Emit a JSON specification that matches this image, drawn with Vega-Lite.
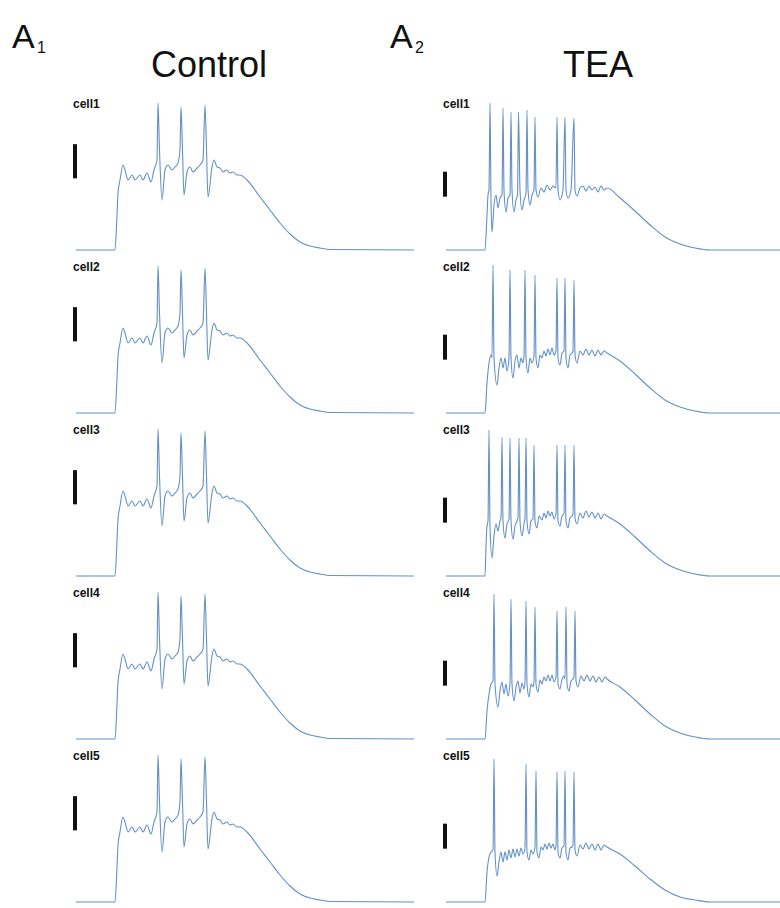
{
"$schema": "https://vega.github.io/schema/vega-lite/v6.json",
"padding": {"left": 12, "top": 21, "right": 0, "bottom": 0},
"autosize": {"type": "pad"},
"bounds": "flush",
"spacing": {"row": 13, "column": 32},
"config": {"view": {"stroke": null}, "font": "Liberation Sans", "background": "white"},
"data": {"values": [
{"k":"trace","cond":"Control","cells":["cell1","cell2","cell3","cell4","cell5"],"t":12,"v":-70},
{"k":"trace","cond":"Control","cells":["cell1","cell2","cell3","cell4","cell5"],"t":129,"v":-70},
{"k":"trace","cond":"Control","cells":["cell1","cell2","cell3","cell4","cell5"],"t":135,"v":-49},
{"k":"trace","cond":"Control","cells":["cell1","cell2","cell3","cell4","cell5"],"t":138,"v":-35.8},
{"k":"trace","cond":"Control","cells":["cell1","cell2","cell3","cell4","cell5"],"t":144,"v":-28},
{"k":"trace","cond":"Control","cells":["cell1","cell2","cell3","cell4","cell5"],"t":153,"v":-19},
{"k":"trace","cond":"Control","cells":["cell1","cell2","cell3","cell4","cell5"],"t":159,"v":-22},
{"k":"trace","cond":"Control","cells":["cell1","cell2","cell3","cell4","cell5"],"t":168,"v":-28},
{"k":"trace","cond":"Control","cells":["cell1","cell2","cell3","cell4","cell5"],"t":180,"v":-25},
{"k":"trace","cond":"Control","cells":["cell1","cell2","cell3","cell4","cell5"],"t":189,"v":-28},
{"k":"trace","cond":"Control","cells":["cell1","cell2","cell3","cell4","cell5"],"t":204,"v":-25},
{"k":"trace","cond":"Control","cells":["cell1","cell2","cell3","cell4","cell5"],"t":213,"v":-28},
{"k":"trace","cond":"Control","cells":["cell1","cell2","cell3","cell4","cell5"],"t":225,"v":-23.8},
{"k":"trace","cond":"Control","cells":["cell1","cell2","cell3","cell4","cell5"],"t":237,"v":-29.2},
{"k":"trace","cond":"Control","cells":["cell1","cell2","cell3","cell4","cell5"],"t":246,"v":-22},
{"k":"trace","cond":"Control","cells":["cell1","cell2","cell3","cell4","cell5"],"t":255,"v":-16},
{"k":"trace","cond":"Control","cells":["cell1","cell2","cell3","cell4","cell5"],"t":258,"v":18.2},
{"k":"trace","cond":"Control","cells":["cell1","cell2","cell3","cell4","cell5"],"t":262.5,"v":-10},
{"k":"trace","cond":"Control","cells":["cell1","cell2","cell3","cell4","cell5"],"t":270,"v":-40},
{"k":"trace","cond":"Control","cells":["cell1","cell2","cell3","cell4","cell5"],"t":279,"v":-22},
{"k":"trace","cond":"Control","cells":["cell1","cell2","cell3","cell4","cell5"],"t":288,"v":-19},
{"k":"trace","cond":"Control","cells":["cell1","cell2","cell3","cell4","cell5"],"t":300,"v":-22},
{"k":"trace","cond":"Control","cells":["cell1","cell2","cell3","cell4","cell5"],"t":309,"v":-20.2},
{"k":"trace","cond":"Control","cells":["cell1","cell2","cell3","cell4","cell5"],"t":318,"v":-17.8},
{"k":"trace","cond":"Control","cells":["cell1","cell2","cell3","cell4","cell5"],"t":324,"v":-10},
{"k":"trace","cond":"Control","cells":["cell1","cell2","cell3","cell4","cell5"],"t":327,"v":15.8},
{"k":"trace","cond":"Control","cells":["cell1","cell2","cell3","cell4","cell5"],"t":331.5,"v":-10},
{"k":"trace","cond":"Control","cells":["cell1","cell2","cell3","cell4","cell5"],"t":336,"v":-37},
{"k":"trace","cond":"Control","cells":["cell1","cell2","cell3","cell4","cell5"],"t":345,"v":-23.2},
{"k":"trace","cond":"Control","cells":["cell1","cell2","cell3","cell4","cell5"],"t":354,"v":-20.2},
{"k":"trace","cond":"Control","cells":["cell1","cell2","cell3","cell4","cell5"],"t":363,"v":-23.2},
{"k":"trace","cond":"Control","cells":["cell1","cell2","cell3","cell4","cell5"],"t":375,"v":-20.8},
{"k":"trace","cond":"Control","cells":["cell1","cell2","cell3","cell4","cell5"],"t":384,"v":-19},
{"k":"trace","cond":"Control","cells":["cell1","cell2","cell3","cell4","cell5"],"t":393,"v":-16},
{"k":"trace","cond":"Control","cells":["cell1","cell2","cell3","cell4","cell5"],"t":399,"v":17},
{"k":"trace","cond":"Control","cells":["cell1","cell2","cell3","cell4","cell5"],"t":403.5,"v":-10},
{"k":"trace","cond":"Control","cells":["cell1","cell2","cell3","cell4","cell5"],"t":408,"v":-38.2},
{"k":"trace","cond":"Control","cells":["cell1","cell2","cell3","cell4","cell5"],"t":420,"v":-20.2},
{"k":"trace","cond":"Control","cells":["cell1","cell2","cell3","cell4","cell5"],"t":426,"v":-16},
{"k":"trace","cond":"Control","cells":["cell1","cell2","cell3","cell4","cell5"],"t":435,"v":-20.2},
{"k":"trace","cond":"Control","cells":["cell1","cell2","cell3","cell4","cell5"],"t":444,"v":-20.8},
{"k":"trace","cond":"Control","cells":["cell1","cell2","cell3","cell4","cell5"],"t":453,"v":-23.2},
{"k":"trace","cond":"Control","cells":["cell1","cell2","cell3","cell4","cell5"],"t":465,"v":-22},
{"k":"trace","cond":"Control","cells":["cell1","cell2","cell3","cell4","cell5"],"t":474,"v":-23.8},
{"k":"trace","cond":"Control","cells":["cell1","cell2","cell3","cell4","cell5"],"t":483,"v":-23.2},
{"k":"trace","cond":"Control","cells":["cell1","cell2","cell3","cell4","cell5"],"t":495,"v":-25},
{"k":"trace","cond":"Control","cells":["cell1","cell2","cell3","cell4","cell5"],"t":504,"v":-25},
{"k":"trace","cond":"Control","cells":["cell1","cell2","cell3","cell4","cell5"],"t":525,"v":-28},
{"k":"trace","cond":"Control","cells":["cell1","cell2","cell3","cell4","cell5"],"t":564,"v":-38.2},
{"k":"trace","cond":"Control","cells":["cell1","cell2","cell3","cell4","cell5"],"t":594,"v":-46},
{"k":"trace","cond":"Control","cells":["cell1","cell2","cell3","cell4","cell5"],"t":624,"v":-53.8},
{"k":"trace","cond":"Control","cells":["cell1","cell2","cell3","cell4","cell5"],"t":654,"v":-60.4},
{"k":"trace","cond":"Control","cells":["cell1","cell2","cell3","cell4","cell5"],"t":684,"v":-65.2},
{"k":"trace","cond":"Control","cells":["cell1","cell2","cell3","cell4","cell5"],"t":714,"v":-67.6},
{"k":"trace","cond":"Control","cells":["cell1","cell2","cell3","cell4","cell5"],"t":744,"v":-68.8},
{"k":"trace","cond":"Control","cells":["cell1","cell2","cell3","cell4","cell5"],"t":774,"v":-69.7},
{"k":"trace","cond":"Control","cells":["cell1","cell2","cell3","cell4","cell5"],"t":1026,"v":-70},

{"k":"trace","cond":"TEA","cells":["cell1"],"t":12,"v":-70},
{"k":"trace","cond":"TEA","cells":["cell1"],"t":129,"v":-70},
{"k":"trace","cond":"TEA","cells":["cell1"],"t":135,"v":-49},
{"k":"trace","cond":"TEA","cells":["cell1"],"t":138,"v":-37},
{"k":"trace","cond":"TEA","cells":["cell1"],"t":141,"v":-34},
{"k":"trace","cond":"TEA","cells":["cell1"],"t":144,"v":18.2},
{"k":"trace","cond":"TEA","cells":["cell1"],"t":147,"v":-40},
{"k":"trace","cond":"TEA","cells":["cell1"],"t":150,"v":-59.2},
{"k":"trace","cond":"TEA","cells":["cell1"],"t":156,"v":-43},
{"k":"trace","cond":"TEA","cells":["cell1"],"t":162,"v":-37},
{"k":"trace","cond":"TEA","cells":["cell1"],"t":168,"v":-44.8},
{"k":"trace","cond":"TEA","cells":["cell1"],"t":174,"v":-38.8},
{"k":"trace","cond":"TEA","cells":["cell1"],"t":180,"v":-37},
{"k":"trace","cond":"TEA","cells":["cell1"],"t":183,"v":15.2},
{"k":"trace","cond":"TEA","cells":["cell1"],"t":186,"v":-34},
{"k":"trace","cond":"TEA","cells":["cell1"],"t":192,"v":-47.2},
{"k":"trace","cond":"TEA","cells":["cell1"],"t":198,"v":-38.8},
{"k":"trace","cond":"TEA","cells":["cell1"],"t":204,"v":-37},
{"k":"trace","cond":"TEA","cells":["cell1"],"t":207,"v":12.8},
{"k":"trace","cond":"TEA","cells":["cell1"],"t":210,"v":-34},
{"k":"trace","cond":"TEA","cells":["cell1"],"t":216,"v":-47.2},
{"k":"trace","cond":"TEA","cells":["cell1"],"t":222,"v":-40},
{"k":"trace","cond":"TEA","cells":["cell1"],"t":226.5,"v":-37},
{"k":"trace","cond":"TEA","cells":["cell1"],"t":229.5,"v":12.8},
{"k":"trace","cond":"TEA","cells":["cell1"],"t":234,"v":-34},
{"k":"trace","cond":"TEA","cells":["cell1"],"t":240,"v":-46},
{"k":"trace","cond":"TEA","cells":["cell1"],"t":246,"v":-40},
{"k":"trace","cond":"TEA","cells":["cell1"],"t":252,"v":-35.8},
{"k":"trace","cond":"TEA","cells":["cell1"],"t":255,"v":14},
{"k":"trace","cond":"TEA","cells":["cell1"],"t":258,"v":-34},
{"k":"trace","cond":"TEA","cells":["cell1"],"t":264,"v":-43},
{"k":"trace","cond":"TEA","cells":["cell1"],"t":270,"v":-37},
{"k":"trace","cond":"TEA","cells":["cell1"],"t":276,"v":-34},
{"k":"trace","cond":"TEA","cells":["cell1"],"t":279,"v":9.8},
{"k":"trace","cond":"TEA","cells":["cell1"],"t":282,"v":-34},
{"k":"trace","cond":"TEA","cells":["cell1"],"t":288,"v":-38.2},
{"k":"trace","cond":"TEA","cells":["cell1"],"t":297,"v":-32.8},
{"k":"trace","cond":"TEA","cells":["cell1"],"t":306,"v":-35.2},
{"k":"trace","cond":"TEA","cells":["cell1"],"t":315,"v":-31},
{"k":"trace","cond":"TEA","cells":["cell1"],"t":324,"v":-34},
{"k":"trace","cond":"TEA","cells":["cell1"],"t":333,"v":-31.6},
{"k":"trace","cond":"TEA","cells":["cell1"],"t":342,"v":-32.8},
{"k":"trace","cond":"TEA","cells":["cell1"],"t":345,"v":9.8},
{"k":"trace","cond":"TEA","cells":["cell1"],"t":348,"v":-34},
{"k":"trace","cond":"TEA","cells":["cell1"],"t":354,"v":-40},
{"k":"trace","cond":"TEA","cells":["cell1"],"t":363,"v":-34},
{"k":"trace","cond":"TEA","cells":["cell1"],"t":369,"v":9.8},
{"k":"trace","cond":"TEA","cells":["cell1"],"t":372,"v":-34},
{"k":"trace","cond":"TEA","cells":["cell1"],"t":378,"v":-38.8},
{"k":"trace","cond":"TEA","cells":["cell1"],"t":387,"v":-34},
{"k":"trace","cond":"TEA","cells":["cell1"],"t":396,"v":9.2},
{"k":"trace","cond":"TEA","cells":["cell1"],"t":399,"v":-34},
{"k":"trace","cond":"TEA","cells":["cell1"],"t":405,"v":-37.6},
{"k":"trace","cond":"TEA","cells":["cell1"],"t":414,"v":-32.8},
{"k":"trace","cond":"TEA","cells":["cell1"],"t":423,"v":-31.6},
{"k":"trace","cond":"TEA","cells":["cell1"],"t":432,"v":-34.6},
{"k":"trace","cond":"TEA","cells":["cell1"],"t":441,"v":-31.6},
{"k":"trace","cond":"TEA","cells":["cell1"],"t":450,"v":-34},
{"k":"trace","cond":"TEA","cells":["cell1"],"t":459,"v":-32.2},
{"k":"trace","cond":"TEA","cells":["cell1"],"t":468,"v":-35.2},
{"k":"trace","cond":"TEA","cells":["cell1"],"t":477,"v":-31.6},
{"k":"trace","cond":"TEA","cells":["cell1"],"t":486,"v":-34},
{"k":"trace","cond":"TEA","cells":["cell1"],"t":495,"v":-32.8},
{"k":"trace","cond":"TEA","cells":["cell1"],"t":534,"v":-38.8},
{"k":"trace","cond":"TEA","cells":["cell1"],"t":579,"v":-46.6},
{"k":"trace","cond":"TEA","cells":["cell1"],"t":624,"v":-55},
{"k":"trace","cond":"TEA","cells":["cell1"],"t":669,"v":-62.2},
{"k":"trace","cond":"TEA","cells":["cell1"],"t":714,"v":-66.4},
{"k":"trace","cond":"TEA","cells":["cell1"],"t":759,"v":-68.8},
{"k":"trace","cond":"TEA","cells":["cell1"],"t":804,"v":-70},
{"k":"trace","cond":"TEA","cells":["cell1"],"t":1014,"v":-70},

{"k":"trace","cond":"TEA","cells":["cell2"],"t":12,"v":-70},
{"k":"trace","cond":"TEA","cells":["cell2"],"t":129,"v":-70},
{"k":"trace","cond":"TEA","cells":["cell2"],"t":135,"v":-52},
{"k":"trace","cond":"TEA","cells":["cell2"],"t":141,"v":-40},
{"k":"trace","cond":"TEA","cells":["cell2"],"t":147,"v":-35.2},
{"k":"trace","cond":"TEA","cells":["cell2"],"t":150,"v":-37},
{"k":"trace","cond":"TEA","cells":["cell2"],"t":153,"v":18.8},
{"k":"trace","cond":"TEA","cells":["cell2"],"t":156,"v":-37},
{"k":"trace","cond":"TEA","cells":["cell2"],"t":165,"v":-53.2},
{"k":"trace","cond":"TEA","cells":["cell2"],"t":171,"v":-43},
{"k":"trace","cond":"TEA","cells":["cell2"],"t":177,"v":-37},
{"k":"trace","cond":"TEA","cells":["cell2"],"t":183,"v":-43},
{"k":"trace","cond":"TEA","cells":["cell2"],"t":189,"v":-37},
{"k":"trace","cond":"TEA","cells":["cell2"],"t":195,"v":-44.8},
{"k":"trace","cond":"TEA","cells":["cell2"],"t":201,"v":-37},
{"k":"trace","cond":"TEA","cells":["cell2"],"t":204,"v":15.8},
{"k":"trace","cond":"TEA","cells":["cell2"],"t":207,"v":-37},
{"k":"trace","cond":"TEA","cells":["cell2"],"t":213,"v":-49},
{"k":"trace","cond":"TEA","cells":["cell2"],"t":219,"v":-38.8},
{"k":"trace","cond":"TEA","cells":["cell2"],"t":225,"v":-35.2},
{"k":"trace","cond":"TEA","cells":["cell2"],"t":231,"v":-43},
{"k":"trace","cond":"TEA","cells":["cell2"],"t":237,"v":-37},
{"k":"trace","cond":"TEA","cells":["cell2"],"t":243,"v":-40},
{"k":"trace","cond":"TEA","cells":["cell2"],"t":246,"v":-35.8},
{"k":"trace","cond":"TEA","cells":["cell2"],"t":249,"v":15.8},
{"k":"trace","cond":"TEA","cells":["cell2"],"t":252,"v":-37},
{"k":"trace","cond":"TEA","cells":["cell2"],"t":258,"v":-46},
{"k":"trace","cond":"TEA","cells":["cell2"],"t":264,"v":-37},
{"k":"trace","cond":"TEA","cells":["cell2"],"t":270,"v":-40},
{"k":"trace","cond":"TEA","cells":["cell2"],"t":276,"v":-35.8},
{"k":"trace","cond":"TEA","cells":["cell2"],"t":279,"v":12.8},
{"k":"trace","cond":"TEA","cells":["cell2"],"t":282,"v":-37},
{"k":"trace","cond":"TEA","cells":["cell2"],"t":288,"v":-43},
{"k":"trace","cond":"TEA","cells":["cell2"],"t":294,"v":-35.2},
{"k":"trace","cond":"TEA","cells":["cell2"],"t":300,"v":-37},
{"k":"trace","cond":"TEA","cells":["cell2"],"t":306,"v":-32.8},
{"k":"trace","cond":"TEA","cells":["cell2"],"t":312,"v":-35.8},
{"k":"trace","cond":"TEA","cells":["cell2"],"t":318,"v":-31.6},
{"k":"trace","cond":"TEA","cells":["cell2"],"t":324,"v":-35.2},
{"k":"trace","cond":"TEA","cells":["cell2"],"t":330,"v":-31},
{"k":"trace","cond":"TEA","cells":["cell2"],"t":336,"v":-35.2},
{"k":"trace","cond":"TEA","cells":["cell2"],"t":342,"v":-32.8},
{"k":"trace","cond":"TEA","cells":["cell2"],"t":345,"v":11},
{"k":"trace","cond":"TEA","cells":["cell2"],"t":348,"v":-37},
{"k":"trace","cond":"TEA","cells":["cell2"],"t":354,"v":-41.2},
{"k":"trace","cond":"TEA","cells":["cell2"],"t":360,"v":-34},
{"k":"trace","cond":"TEA","cells":["cell2"],"t":366,"v":-32.8},
{"k":"trace","cond":"TEA","cells":["cell2"],"t":369,"v":11},
{"k":"trace","cond":"TEA","cells":["cell2"],"t":372,"v":-37},
{"k":"trace","cond":"TEA","cells":["cell2"],"t":378,"v":-43},
{"k":"trace","cond":"TEA","cells":["cell2"],"t":384,"v":-35.2},
{"k":"trace","cond":"TEA","cells":["cell2"],"t":390,"v":-34},
{"k":"trace","cond":"TEA","cells":["cell2"],"t":393,"v":-32.8},
{"k":"trace","cond":"TEA","cells":["cell2"],"t":396,"v":9.8},
{"k":"trace","cond":"TEA","cells":["cell2"],"t":399,"v":-35.2},
{"k":"trace","cond":"TEA","cells":["cell2"],"t":405,"v":-40},
{"k":"trace","cond":"TEA","cells":["cell2"],"t":414,"v":-32.8},
{"k":"trace","cond":"TEA","cells":["cell2"],"t":423,"v":-35.2},
{"k":"trace","cond":"TEA","cells":["cell2"],"t":432,"v":-31.6},
{"k":"trace","cond":"TEA","cells":["cell2"],"t":441,"v":-35.2},
{"k":"trace","cond":"TEA","cells":["cell2"],"t":450,"v":-32.2},
{"k":"trace","cond":"TEA","cells":["cell2"],"t":459,"v":-35.8},
{"k":"trace","cond":"TEA","cells":["cell2"],"t":468,"v":-32.2},
{"k":"trace","cond":"TEA","cells":["cell2"],"t":477,"v":-35.2},
{"k":"trace","cond":"TEA","cells":["cell2"],"t":486,"v":-32.8},
{"k":"trace","cond":"TEA","cells":["cell2"],"t":495,"v":-34},
{"k":"trace","cond":"TEA","cells":["cell2"],"t":534,"v":-38.8},
{"k":"trace","cond":"TEA","cells":["cell2"],"t":579,"v":-46.6},
{"k":"trace","cond":"TEA","cells":["cell2"],"t":624,"v":-55},
{"k":"trace","cond":"TEA","cells":["cell2"],"t":669,"v":-62.2},
{"k":"trace","cond":"TEA","cells":["cell2"],"t":714,"v":-66.4},
{"k":"trace","cond":"TEA","cells":["cell2"],"t":759,"v":-68.8},
{"k":"trace","cond":"TEA","cells":["cell2"],"t":804,"v":-70},
{"k":"trace","cond":"TEA","cells":["cell2"],"t":1014,"v":-70},

{"k":"trace","cond":"TEA","cells":["cell3"],"t":12,"v":-70},
{"k":"trace","cond":"TEA","cells":["cell3"],"t":129,"v":-70},
{"k":"trace","cond":"TEA","cells":["cell3"],"t":132,"v":-52},
{"k":"trace","cond":"TEA","cells":["cell3"],"t":135,"v":-40},
{"k":"trace","cond":"TEA","cells":["cell3"],"t":138,"v":-37},
{"k":"trace","cond":"TEA","cells":["cell3"],"t":141,"v":17.6},
{"k":"trace","cond":"TEA","cells":["cell3"],"t":144,"v":-40},
{"k":"trace","cond":"TEA","cells":["cell3"],"t":150,"v":-59.2},
{"k":"trace","cond":"TEA","cells":["cell3"],"t":156,"v":-46},
{"k":"trace","cond":"TEA","cells":["cell3"],"t":162,"v":-38.8},
{"k":"trace","cond":"TEA","cells":["cell3"],"t":168,"v":-43},
{"k":"trace","cond":"TEA","cells":["cell3"],"t":174,"v":-37},
{"k":"trace","cond":"TEA","cells":["cell3"],"t":177,"v":-35.2},
{"k":"trace","cond":"TEA","cells":["cell3"],"t":180,"v":13.4},
{"k":"trace","cond":"TEA","cells":["cell3"],"t":183,"v":-37},
{"k":"trace","cond":"TEA","cells":["cell3"],"t":189,"v":-47.2},
{"k":"trace","cond":"TEA","cells":["cell3"],"t":195,"v":-38.8},
{"k":"trace","cond":"TEA","cells":["cell3"],"t":201,"v":-35.8},
{"k":"trace","cond":"TEA","cells":["cell3"],"t":204,"v":12.8},
{"k":"trace","cond":"TEA","cells":["cell3"],"t":207,"v":-37},
{"k":"trace","cond":"TEA","cells":["cell3"],"t":213,"v":-47.8},
{"k":"trace","cond":"TEA","cells":["cell3"],"t":219,"v":-40},
{"k":"trace","cond":"TEA","cells":["cell3"],"t":225,"v":-37},
{"k":"trace","cond":"TEA","cells":["cell3"],"t":228,"v":-35.2},
{"k":"trace","cond":"TEA","cells":["cell3"],"t":231,"v":12.8},
{"k":"trace","cond":"TEA","cells":["cell3"],"t":234,"v":-37},
{"k":"trace","cond":"TEA","cells":["cell3"],"t":240,"v":-46},
{"k":"trace","cond":"TEA","cells":["cell3"],"t":246,"v":-38.8},
{"k":"trace","cond":"TEA","cells":["cell3"],"t":249,"v":-35.2},
{"k":"trace","cond":"TEA","cells":["cell3"],"t":252,"v":12.8},
{"k":"trace","cond":"TEA","cells":["cell3"],"t":255,"v":-37},
{"k":"trace","cond":"TEA","cells":["cell3"],"t":261,"v":-44.8},
{"k":"trace","cond":"TEA","cells":["cell3"],"t":267,"v":-37},
{"k":"trace","cond":"TEA","cells":["cell3"],"t":273,"v":-35.8},
{"k":"trace","cond":"TEA","cells":["cell3"],"t":276,"v":8.6},
{"k":"trace","cond":"TEA","cells":["cell3"],"t":279,"v":-37},
{"k":"trace","cond":"TEA","cells":["cell3"],"t":285,"v":-41.2},
{"k":"trace","cond":"TEA","cells":["cell3"],"t":291,"v":-34},
{"k":"trace","cond":"TEA","cells":["cell3"],"t":300,"v":-36.4},
{"k":"trace","cond":"TEA","cells":["cell3"],"t":306,"v":-32.2},
{"k":"trace","cond":"TEA","cells":["cell3"],"t":312,"v":-35.2},
{"k":"trace","cond":"TEA","cells":["cell3"],"t":318,"v":-31},
{"k":"trace","cond":"TEA","cells":["cell3"],"t":324,"v":-34},
{"k":"trace","cond":"TEA","cells":["cell3"],"t":330,"v":-31.6},
{"k":"trace","cond":"TEA","cells":["cell3"],"t":336,"v":-35.8},
{"k":"trace","cond":"TEA","cells":["cell3"],"t":342,"v":-32.8},
{"k":"trace","cond":"TEA","cells":["cell3"],"t":345,"v":8.6},
{"k":"trace","cond":"TEA","cells":["cell3"],"t":348,"v":-37},
{"k":"trace","cond":"TEA","cells":["cell3"],"t":354,"v":-40},
{"k":"trace","cond":"TEA","cells":["cell3"],"t":360,"v":-34},
{"k":"trace","cond":"TEA","cells":["cell3"],"t":366,"v":-32.8},
{"k":"trace","cond":"TEA","cells":["cell3"],"t":369,"v":8.6},
{"k":"trace","cond":"TEA","cells":["cell3"],"t":372,"v":-37},
{"k":"trace","cond":"TEA","cells":["cell3"],"t":378,"v":-41.2},
{"k":"trace","cond":"TEA","cells":["cell3"],"t":384,"v":-35.2},
{"k":"trace","cond":"TEA","cells":["cell3"],"t":390,"v":-34},
{"k":"trace","cond":"TEA","cells":["cell3"],"t":393,"v":-32.8},
{"k":"trace","cond":"TEA","cells":["cell3"],"t":396,"v":8.6},
{"k":"trace","cond":"TEA","cells":["cell3"],"t":399,"v":-35.2},
{"k":"trace","cond":"TEA","cells":["cell3"],"t":405,"v":-38.8},
{"k":"trace","cond":"TEA","cells":["cell3"],"t":414,"v":-32.2},
{"k":"trace","cond":"TEA","cells":["cell3"],"t":423,"v":-35.2},
{"k":"trace","cond":"TEA","cells":["cell3"],"t":432,"v":-31},
{"k":"trace","cond":"TEA","cells":["cell3"],"t":441,"v":-34.6},
{"k":"trace","cond":"TEA","cells":["cell3"],"t":450,"v":-31.6},
{"k":"trace","cond":"TEA","cells":["cell3"],"t":459,"v":-35.2},
{"k":"trace","cond":"TEA","cells":["cell3"],"t":468,"v":-32.2},
{"k":"trace","cond":"TEA","cells":["cell3"],"t":477,"v":-35.8},
{"k":"trace","cond":"TEA","cells":["cell3"],"t":486,"v":-32.8},
{"k":"trace","cond":"TEA","cells":["cell3"],"t":495,"v":-34},
{"k":"trace","cond":"TEA","cells":["cell3"],"t":534,"v":-38.8},
{"k":"trace","cond":"TEA","cells":["cell3"],"t":579,"v":-46.6},
{"k":"trace","cond":"TEA","cells":["cell3"],"t":624,"v":-55},
{"k":"trace","cond":"TEA","cells":["cell3"],"t":669,"v":-62.2},
{"k":"trace","cond":"TEA","cells":["cell3"],"t":714,"v":-66.4},
{"k":"trace","cond":"TEA","cells":["cell3"],"t":759,"v":-68.8},
{"k":"trace","cond":"TEA","cells":["cell3"],"t":804,"v":-70},
{"k":"trace","cond":"TEA","cells":["cell3"],"t":1014,"v":-70},

{"k":"trace","cond":"TEA","cells":["cell4"],"t":12,"v":-70},
{"k":"trace","cond":"TEA","cells":["cell4"],"t":129,"v":-70},
{"k":"trace","cond":"TEA","cells":["cell4"],"t":135,"v":-53.2},
{"k":"trace","cond":"TEA","cells":["cell4"],"t":141,"v":-43},
{"k":"trace","cond":"TEA","cells":["cell4"],"t":147,"v":-37},
{"k":"trace","cond":"TEA","cells":["cell4"],"t":153,"v":-35.2},
{"k":"trace","cond":"TEA","cells":["cell4"],"t":156,"v":17},
{"k":"trace","cond":"TEA","cells":["cell4"],"t":159,"v":-37},
{"k":"trace","cond":"TEA","cells":["cell4"],"t":168,"v":-50.8},
{"k":"trace","cond":"TEA","cells":["cell4"],"t":174,"v":-41.2},
{"k":"trace","cond":"TEA","cells":["cell4"],"t":180,"v":-35.8},
{"k":"trace","cond":"TEA","cells":["cell4"],"t":186,"v":-43},
{"k":"trace","cond":"TEA","cells":["cell4"],"t":192,"v":-37},
{"k":"trace","cond":"TEA","cells":["cell4"],"t":198,"v":-44.2},
{"k":"trace","cond":"TEA","cells":["cell4"],"t":204,"v":-36.4},
{"k":"trace","cond":"TEA","cells":["cell4"],"t":207,"v":14},
{"k":"trace","cond":"TEA","cells":["cell4"],"t":210,"v":-37},
{"k":"trace","cond":"TEA","cells":["cell4"],"t":216,"v":-47.2},
{"k":"trace","cond":"TEA","cells":["cell4"],"t":222,"v":-38.8},
{"k":"trace","cond":"TEA","cells":["cell4"],"t":228,"v":-35.2},
{"k":"trace","cond":"TEA","cells":["cell4"],"t":234,"v":-42.4},
{"k":"trace","cond":"TEA","cells":["cell4"],"t":240,"v":-36.4},
{"k":"trace","cond":"TEA","cells":["cell4"],"t":246,"v":-40},
{"k":"trace","cond":"TEA","cells":["cell4"],"t":249,"v":-35.8},
{"k":"trace","cond":"TEA","cells":["cell4"],"t":252,"v":12.8},
{"k":"trace","cond":"TEA","cells":["cell4"],"t":255,"v":-37},
{"k":"trace","cond":"TEA","cells":["cell4"],"t":261,"v":-44.8},
{"k":"trace","cond":"TEA","cells":["cell4"],"t":267,"v":-37},
{"k":"trace","cond":"TEA","cells":["cell4"],"t":273,"v":-38.8},
{"k":"trace","cond":"TEA","cells":["cell4"],"t":276,"v":-35.2},
{"k":"trace","cond":"TEA","cells":["cell4"],"t":279,"v":9.2},
{"k":"trace","cond":"TEA","cells":["cell4"],"t":282,"v":-37},
{"k":"trace","cond":"TEA","cells":["cell4"],"t":288,"v":-41.8},
{"k":"trace","cond":"TEA","cells":["cell4"],"t":294,"v":-34.6},
{"k":"trace","cond":"TEA","cells":["cell4"],"t":300,"v":-37},
{"k":"trace","cond":"TEA","cells":["cell4"],"t":306,"v":-32.8},
{"k":"trace","cond":"TEA","cells":["cell4"],"t":312,"v":-35.2},
{"k":"trace","cond":"TEA","cells":["cell4"],"t":318,"v":-31.6},
{"k":"trace","cond":"TEA","cells":["cell4"],"t":324,"v":-35.2},
{"k":"trace","cond":"TEA","cells":["cell4"],"t":330,"v":-31.6},
{"k":"trace","cond":"TEA","cells":["cell4"],"t":336,"v":-35.8},
{"k":"trace","cond":"TEA","cells":["cell4"],"t":342,"v":-32.8},
{"k":"trace","cond":"TEA","cells":["cell4"],"t":345,"v":6.8},
{"k":"trace","cond":"TEA","cells":["cell4"],"t":348,"v":-37},
{"k":"trace","cond":"TEA","cells":["cell4"],"t":354,"v":-40},
{"k":"trace","cond":"TEA","cells":["cell4"],"t":360,"v":-34},
{"k":"trace","cond":"TEA","cells":["cell4"],"t":366,"v":-32.2},
{"k":"trace","cond":"TEA","cells":["cell4"],"t":369,"v":-34},
{"k":"trace","cond":"TEA","cells":["cell4"],"t":372,"v":9.2},
{"k":"trace","cond":"TEA","cells":["cell4"],"t":375,"v":-37},
{"k":"trace","cond":"TEA","cells":["cell4"],"t":381,"v":-41.2},
{"k":"trace","cond":"TEA","cells":["cell4"],"t":387,"v":-35.2},
{"k":"trace","cond":"TEA","cells":["cell4"],"t":393,"v":-34},
{"k":"trace","cond":"TEA","cells":["cell4"],"t":396,"v":-32.8},
{"k":"trace","cond":"TEA","cells":["cell4"],"t":399,"v":6.8},
{"k":"trace","cond":"TEA","cells":["cell4"],"t":402,"v":-35.2},
{"k":"trace","cond":"TEA","cells":["cell4"],"t":408,"v":-38.8},
{"k":"trace","cond":"TEA","cells":["cell4"],"t":417,"v":-32.2},
{"k":"trace","cond":"TEA","cells":["cell4"],"t":426,"v":-35.2},
{"k":"trace","cond":"TEA","cells":["cell4"],"t":435,"v":-31.6},
{"k":"trace","cond":"TEA","cells":["cell4"],"t":444,"v":-35.2},
{"k":"trace","cond":"TEA","cells":["cell4"],"t":453,"v":-32.2},
{"k":"trace","cond":"TEA","cells":["cell4"],"t":462,"v":-35.8},
{"k":"trace","cond":"TEA","cells":["cell4"],"t":471,"v":-32.8},
{"k":"trace","cond":"TEA","cells":["cell4"],"t":480,"v":-35.8},
{"k":"trace","cond":"TEA","cells":["cell4"],"t":489,"v":-32.8},
{"k":"trace","cond":"TEA","cells":["cell4"],"t":495,"v":-34},
{"k":"trace","cond":"TEA","cells":["cell4"],"t":534,"v":-38.8},
{"k":"trace","cond":"TEA","cells":["cell4"],"t":579,"v":-46.6},
{"k":"trace","cond":"TEA","cells":["cell4"],"t":624,"v":-55},
{"k":"trace","cond":"TEA","cells":["cell4"],"t":669,"v":-62.2},
{"k":"trace","cond":"TEA","cells":["cell4"],"t":714,"v":-66.4},
{"k":"trace","cond":"TEA","cells":["cell4"],"t":759,"v":-68.8},
{"k":"trace","cond":"TEA","cells":["cell4"],"t":804,"v":-70},
{"k":"trace","cond":"TEA","cells":["cell4"],"t":1014,"v":-70},

{"k":"trace","cond":"TEA","cells":["cell5"],"t":12,"v":-70},
{"k":"trace","cond":"TEA","cells":["cell5"],"t":129,"v":-70},
{"k":"trace","cond":"TEA","cells":["cell5"],"t":135,"v":-52},
{"k":"trace","cond":"TEA","cells":["cell5"],"t":141,"v":-43},
{"k":"trace","cond":"TEA","cells":["cell5"],"t":147,"v":-40},
{"k":"trace","cond":"TEA","cells":["cell5"],"t":153,"v":-38.8},
{"k":"trace","cond":"TEA","cells":["cell5"],"t":156,"v":15.8},
{"k":"trace","cond":"TEA","cells":["cell5"],"t":159,"v":-40},
{"k":"trace","cond":"TEA","cells":["cell5"],"t":165,"v":-54.4},
{"k":"trace","cond":"TEA","cells":["cell5"],"t":171,"v":-46},
{"k":"trace","cond":"TEA","cells":["cell5"],"t":177,"v":-40},
{"k":"trace","cond":"TEA","cells":["cell5"],"t":183,"v":-46},
{"k":"trace","cond":"TEA","cells":["cell5"],"t":189,"v":-40},
{"k":"trace","cond":"TEA","cells":["cell5"],"t":195,"v":-44.8},
{"k":"trace","cond":"TEA","cells":["cell5"],"t":201,"v":-38.8},
{"k":"trace","cond":"TEA","cells":["cell5"],"t":207,"v":-43.6},
{"k":"trace","cond":"TEA","cells":["cell5"],"t":213,"v":-38.2},
{"k":"trace","cond":"TEA","cells":["cell5"],"t":219,"v":-43},
{"k":"trace","cond":"TEA","cells":["cell5"],"t":225,"v":-38.2},
{"k":"trace","cond":"TEA","cells":["cell5"],"t":231,"v":-42.4},
{"k":"trace","cond":"TEA","cells":["cell5"],"t":237,"v":-37.6},
{"k":"trace","cond":"TEA","cells":["cell5"],"t":243,"v":-41.2},
{"k":"trace","cond":"TEA","cells":["cell5"],"t":249,"v":-37.6},
{"k":"trace","cond":"TEA","cells":["cell5"],"t":252,"v":12.8},
{"k":"trace","cond":"TEA","cells":["cell5"],"t":255,"v":-40},
{"k":"trace","cond":"TEA","cells":["cell5"],"t":261,"v":-44.8},
{"k":"trace","cond":"TEA","cells":["cell5"],"t":267,"v":-38.8},
{"k":"trace","cond":"TEA","cells":["cell5"],"t":273,"v":-41.2},
{"k":"trace","cond":"TEA","cells":["cell5"],"t":279,"v":-37},
{"k":"trace","cond":"TEA","cells":["cell5"],"t":282,"v":8.6},
{"k":"trace","cond":"TEA","cells":["cell5"],"t":285,"v":-40},
{"k":"trace","cond":"TEA","cells":["cell5"],"t":291,"v":-43.6},
{"k":"trace","cond":"TEA","cells":["cell5"],"t":297,"v":-37},
{"k":"trace","cond":"TEA","cells":["cell5"],"t":303,"v":-38.8},
{"k":"trace","cond":"TEA","cells":["cell5"],"t":309,"v":-35.2},
{"k":"trace","cond":"TEA","cells":["cell5"],"t":315,"v":-38.2},
{"k":"trace","cond":"TEA","cells":["cell5"],"t":321,"v":-34.6},
{"k":"trace","cond":"TEA","cells":["cell5"],"t":327,"v":-37.6},
{"k":"trace","cond":"TEA","cells":["cell5"],"t":333,"v":-35.2},
{"k":"trace","cond":"TEA","cells":["cell5"],"t":339,"v":-38.8},
{"k":"trace","cond":"TEA","cells":["cell5"],"t":342,"v":-36.4},
{"k":"trace","cond":"TEA","cells":["cell5"],"t":345,"v":8},
{"k":"trace","cond":"TEA","cells":["cell5"],"t":348,"v":-40},
{"k":"trace","cond":"TEA","cells":["cell5"],"t":354,"v":-43.6},
{"k":"trace","cond":"TEA","cells":["cell5"],"t":360,"v":-37.6},
{"k":"trace","cond":"TEA","cells":["cell5"],"t":366,"v":-36.4},
{"k":"trace","cond":"TEA","cells":["cell5"],"t":369,"v":8.6},
{"k":"trace","cond":"TEA","cells":["cell5"],"t":372,"v":-40},
{"k":"trace","cond":"TEA","cells":["cell5"],"t":378,"v":-44.8},
{"k":"trace","cond":"TEA","cells":["cell5"],"t":384,"v":-37.6},
{"k":"trace","cond":"TEA","cells":["cell5"],"t":390,"v":-37},
{"k":"trace","cond":"TEA","cells":["cell5"],"t":393,"v":-35.8},
{"k":"trace","cond":"TEA","cells":["cell5"],"t":396,"v":8},
{"k":"trace","cond":"TEA","cells":["cell5"],"t":399,"v":-38.8},
{"k":"trace","cond":"TEA","cells":["cell5"],"t":405,"v":-42.4},
{"k":"trace","cond":"TEA","cells":["cell5"],"t":414,"v":-35.8},
{"k":"trace","cond":"TEA","cells":["cell5"],"t":423,"v":-38.2},
{"k":"trace","cond":"TEA","cells":["cell5"],"t":432,"v":-34.6},
{"k":"trace","cond":"TEA","cells":["cell5"],"t":441,"v":-38.2},
{"k":"trace","cond":"TEA","cells":["cell5"],"t":450,"v":-35.2},
{"k":"trace","cond":"TEA","cells":["cell5"],"t":459,"v":-38.8},
{"k":"trace","cond":"TEA","cells":["cell5"],"t":468,"v":-35.2},
{"k":"trace","cond":"TEA","cells":["cell5"],"t":477,"v":-38.8},
{"k":"trace","cond":"TEA","cells":["cell5"],"t":486,"v":-35.8},
{"k":"trace","cond":"TEA","cells":["cell5"],"t":495,"v":-37},
{"k":"trace","cond":"TEA","cells":["cell5"],"t":534,"v":-41.2},
{"k":"trace","cond":"TEA","cells":["cell5"],"t":579,"v":-48.4},
{"k":"trace","cond":"TEA","cells":["cell5"],"t":624,"v":-56.2},
{"k":"trace","cond":"TEA","cells":["cell5"],"t":669,"v":-62.8},
{"k":"trace","cond":"TEA","cells":["cell5"],"t":714,"v":-67},
{"k":"trace","cond":"TEA","cells":["cell5"],"t":759,"v":-68.8},
{"k":"trace","cond":"TEA","cells":["cell5"],"t":804,"v":-70},
{"k":"trace","cond":"TEA","cells":["cell5"],"t":1014,"v":-70},

{"k":"bar","cond":"Control","cells":["cell1","cell2","cell3","cell4","cell5"],"t":9,"v":-27,"v2":-6.5},
{"k":"bar","cond":"TEA","cells":["cell1","cell2","cell3","cell4","cell5"],"t":9,"v":-38,"v2":-23},
{"k":"label","cond":"Control","cells":["cell1","cell2","cell3","cell4","cell5"],"t":3,"v":15},
{"k":"label","cond":"TEA","cells":["cell1","cell2","cell3","cell4","cell5"],"t":3,"v":15},
{"k":"title","cond":"Control","cells":["cell1"],"t":411,"v":33.8,"txt":"Control"},
{"k":"title","cond":"TEA","cells":["cell1"],"t":468,"v":33.8,"txt":"TEA"},
{"k":"big","cond":"Control","cells":["cell1"],"t":-180,"v":51.2,"txt":"A"},
{"k":"big","cond":"TEA","cells":["cell1"],"t":-156,"v":51.2,"txt":"A"},
{"k":"sub","cond":"Control","cells":["cell1"],"t":-105,"v":48.2,"txt":"1"},
{"k":"sub","cond":"TEA","cells":["cell1"],"t":-81,"v":48.2,"txt":"2"}
]},
"transform": [{"flatten": ["cells"], "as": ["cell"]}],
"facet": {
  "row": {"field": "cell", "type": "nominal", "header": null},
  "column": {"field": "cond", "type": "nominal", "header": null}
},
"spec": {
  "width": 338,
  "height": 150,
  "encoding": {
    "x": {"field": "t", "type": "quantitative", "scale": {"domain": [0, 1014], "nice": false, "zero": false}, "axis": null},
    "y": {"field": "v", "type": "quantitative", "scale": {"domain": [-70, 20], "nice": false, "zero": false}, "axis": null}
  },
  "layer": [
    {"transform": [{"filter": "datum.k === 'trace'"}], "mark": {"type": "line", "color": "#6390c6", "strokeWidth": 1.1, "interpolate": "monotone"}},
    {"transform": [{"filter": "datum.k === 'bar'"}], "mark": {"type": "rule", "color": "#111111", "strokeWidth": 4}, "encoding": {"y2": {"field": "v2"}}},
    {"transform": [{"filter": "datum.k === 'label'"}], "mark": {"type": "text", "fontSize": 12, "fontWeight": "bold", "align": "left", "baseline": "alphabetic", "color": "#111111"}, "encoding": {"text": {"field": "cell"}}},
    {"transform": [{"filter": "datum.k === 'title'"}], "mark": {"type": "text", "fontSize": 36, "align": "center", "baseline": "alphabetic", "color": "#111111"}, "encoding": {"text": {"field": "txt"}}},
    {"transform": [{"filter": "datum.k === 'big'"}], "mark": {"type": "text", "fontSize": 34, "align": "left", "baseline": "alphabetic", "color": "#111111"}, "encoding": {"text": {"field": "txt"}}},
    {"transform": [{"filter": "datum.k === 'sub'"}], "mark": {"type": "text", "fontSize": 16, "align": "left", "baseline": "alphabetic", "color": "#111111"}, "encoding": {"text": {"field": "txt"}}}
  ]
}
}
